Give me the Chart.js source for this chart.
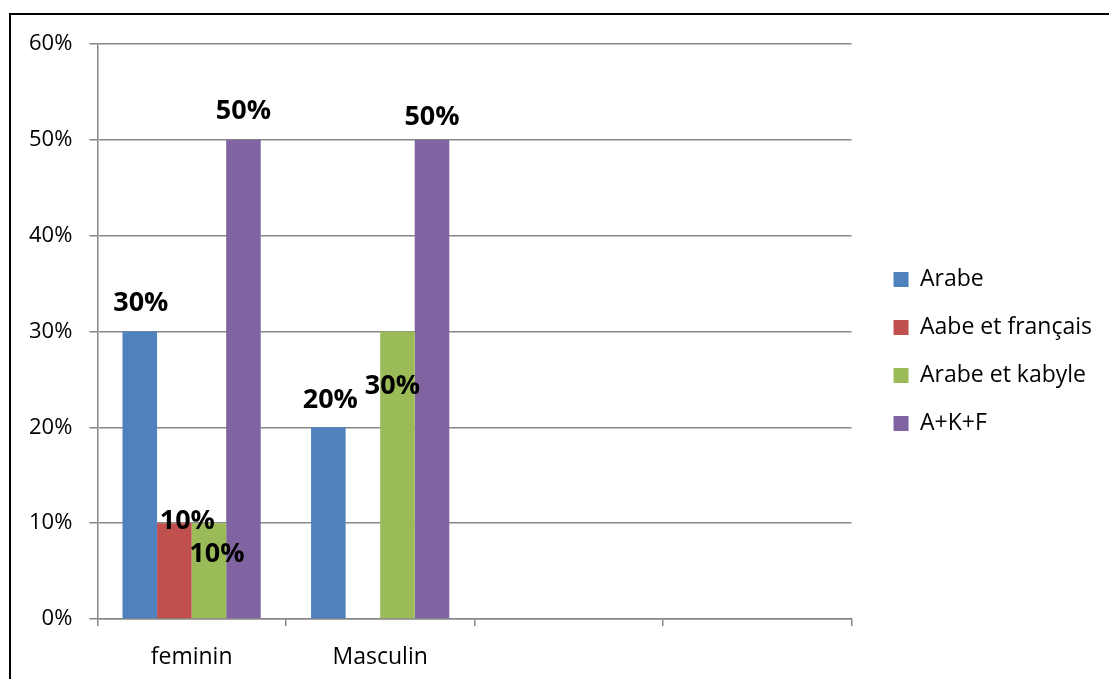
<!DOCTYPE html>
<html>
<head>
<meta charset="utf-8">
<script src="https://cdn.jsdelivr.net/npm/chart.js@4/dist/chart.umd.min.js"></script>
<style>
    body { margin: 0; background: #fff; overflow: hidden; }
    #moldura {
        position: absolute; left: 9px; top: 13px; width: 2000px; height: 2000px;
        border-top: 2px solid #000; border-left: 2px solid #000;
    }
    #grafico { position: absolute; left: 0; top: 0; }
</style>
</head>
<body>
<div id="moldura"></div>
<canvas id="grafico" width="1109" height="679"></canvas>
<script>
// données (en %)
const categories = ['feminin', 'Masculin', '', '']
const arabe = [30, 20, null, null]
const arabeFrancais = [10, null, null, null]
const arabeKabyle = [10, 30, null, null]
const akf = [50, 50, null, null]
const graduations = [0, 10, 20, 30, 40, 50, 60]

const couleurs = ['#4F81BD', '#C0504D', '#9BBB59', '#8064A2']

// décalage des étiquettes par rapport au haut de chaque barre [dx, dy]
const decalages = [
    [[1, -29], [2, -28]],
    [[13, -3], [0, 0]],
    [[8, 30], [-5, 54]],
    [[0, -29], [0, -23]]
]

const etiquettes = {
    id: 'etiquettes',
    afterDatasetsDraw: function (chart) {
        const ctx = chart.ctx
        ctx.save()
        ctx.font = 'bold 27px "Open Sans"'
        ctx.fillStyle = '#000'
        ctx.textAlign = 'center'
        ctx.textBaseline = 'alphabetic'
        chart.data.datasets.forEach(function (ds, i) {
            const meta = chart.getDatasetMeta(i)
            meta.data.forEach(function (barre, j) {
                const v = ds.data[j]
                if (v === null || v === undefined) return
                const d = decalages[i][j] || [0, 0]
                ctx.fillText(v + '%', barre.x + d[0], barre.y + d[1] + 8.5)
            })
        })
        ctx.restore()
    }
}

const dados = {
    labels: categories,
    datasets: [
        { label: 'Arabe', data: arabe, backgroundColor: couleurs[0] },
        { label: 'Aabe et français', data: arabeFrancais, backgroundColor: couleurs[1] },
        { label: 'Arabe et kabyle', data: arabeKabyle, backgroundColor: couleurs[2] },
        { label: 'A+K+F', data: akf, backgroundColor: couleurs[3] }
    ]
}

const config = {
    type: 'bar',
    data: dados,
    options: {
        responsive: false,
        animation: false,
        categoryPercentage: 0.733,
        barPercentage: 1,
        layout: { padding: { left: 12, top: 24, right: 7, bottom: 0 } },
        plugins: {
            tooltip: { enabled: false },
            legend: {
                position: 'right',
                maxWidth: 300,
                labels: {
                    boxWidth: 15,
                    boxHeight: 15,
                    padding: 25,
                    color: '#000',
                    font: { family: 'Open Sans', size: 23 }
                }
            }
        },
        scales: {
            x: {
                grid: { drawOnChartArea: false, color: '#888', lineWidth: 1.5, tickLength: 7, offset: true },
                border: { color: '#888', width: 1.5 },
                ticks: { color: '#000', padding: 18, font: { family: 'Open Sans', size: 23 } },
                afterFit: function (eixo) { eixo.height = 60 }
            },
            y: {
                min: graduations[0],
                max: graduations[graduations.length - 1],
                grid: { color: '#888', lineWidth: 1.5, tickLength: 8 },
                border: { color: '#888', width: 1.5 },
                ticks: {
                    stepSize: 10,
                    color: '#000',
                    padding: 17,
                    font: { family: 'Open Sans', size: 22 },
                    callback: function (v) { return v + '%' }
                }
            },
            // espace vide au-dessus du graphique
            haut: {
                position: 'top',
                grid: { display: false },
                border: { display: false },
                ticks: { display: false },
                afterFit: function (eixo) { eixo.height = 20 }
            },
            // espace vide entre le graphique et la légende
            espace: {
                position: 'right',
                grid: { display: false },
                border: { display: false },
                ticks: { display: false },
                afterFit: function (eixo) { eixo.width = 17 }
            }
        }
    },
    plugins: [etiquettes]
}

new Chart(document.getElementById('grafico'), config)
</script>
</body>
</html>
